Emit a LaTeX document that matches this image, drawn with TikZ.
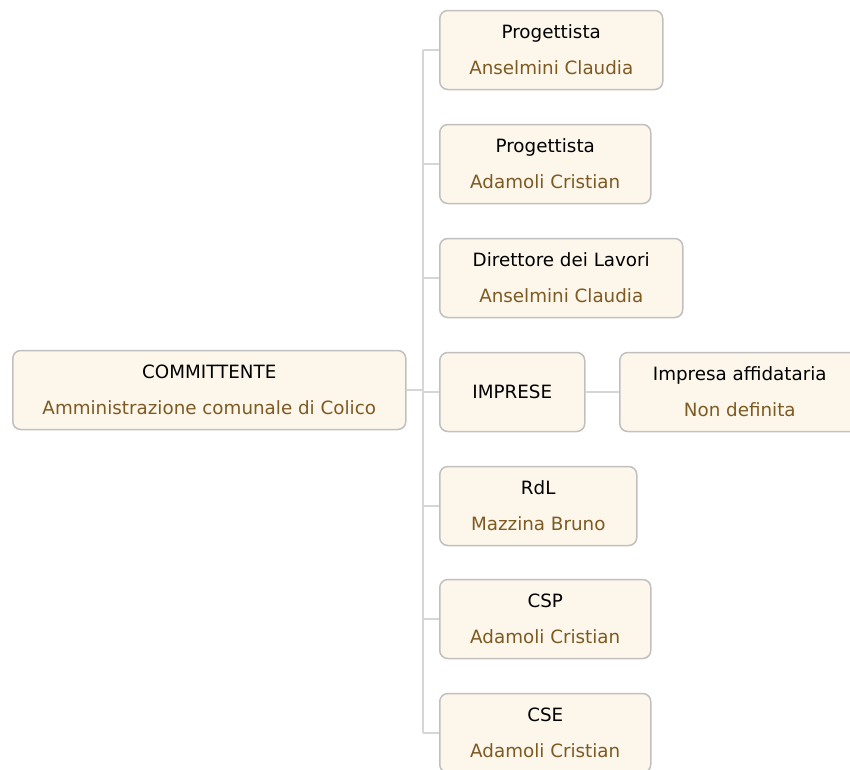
\documentclass[tikz,border=0pt]{standalone}
\usepackage{fontspec}
\setmainfont{DejaVu Sans}
\definecolor{crema}{RGB}{253,246,234}
\definecolor{bordo}{RGB}{194,192,190}
\definecolor{marrone}{RGB}{125,90,34}
\definecolor{linea}{RGB}{214,214,214}
\newcommand{\nome}[1]{\textcolor{marrone}{#1}}

\begin{document}
\begin{tikzpicture}[x=1pt,y=-1pt,
  ruolo/.style={draw=bordo,fill=crema,line width=1.5pt,rounded corners=8pt,
    anchor=west,minimum height=79pt,inner sep=0pt,align=center,
    font=\fontsize{18.3}{36}\selectfont},
  link/.style={draw=linea,line width=1.5pt}]
%  \draw[gray] (0,0) rectangle (850,769);
  \path[use as bounding box] (0,0) rectangle (850,769);
  \node[ruolo,minimum width=393pt] (comm) at ( 12,390) {COMMITTENTE\\\nome{Amministrazione comunale di Colico}};
  \node[ruolo,minimum width=223pt] (prog1) at (439, 50) {Progettista\\\nome{Anselmini Claudia}};
  \node[ruolo,minimum width=211pt] (prog2) at (439,164) {Progettista\\\nome{Adamoli Cristian}};
  \node[ruolo,minimum width=243pt] (dl)    at (439,278) {Direttore dei Lavori\\\nome{Anselmini Claudia}};
  \node[ruolo,minimum width=145pt] (impr)  at (439,392) {IMPRESE};
  \node[ruolo,minimum width=240pt] (affid) at (619,392) {Impresa affidataria\\\nome{Non definita}};
  \node[ruolo,minimum width=197pt] (rdl)   at (439,506) {RdL\\\nome{Mazzina Bruno}};
  \node[ruolo,minimum width=211pt] (csp)   at (439,619) {CSP\\\nome{Adamoli Cristian}};
  \node[ruolo,minimum width=211pt] (cse)   at (439,733) {CSE\\\nome{Adamoli Cristian}};
  \coordinate (alto)  at (423, 50);
  \coordinate (basso) at (423,733);
  \draw[link] (alto) -- (basso);
  \draw[link] (comm.east) -- (comm.east -| alto);
  \foreach \n in {prog1,prog2,dl,impr,rdl,csp,cse}
    \draw[link] (\n.west) -- (\n.west -| alto);
  \draw[link] (impr.east) -- (affid.west);
\end{tikzpicture}
\end{document}
